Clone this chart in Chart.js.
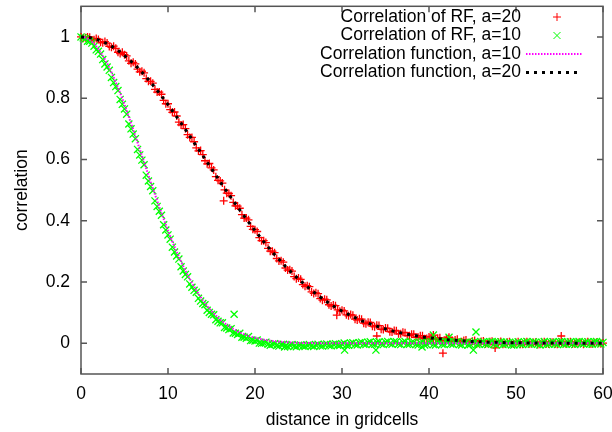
<!DOCTYPE html>
<html>
<head>
<meta charset="utf-8">
<title>correlation</title>
<script src="https://cdn.jsdelivr.net/npm/chart.js@4.4.1/dist/chart.umd.min.js"></script>
<style>
    html, body { margin: 0; padding: 0; background: #fff; }
    #wrap { width: 612px; height: 432px; }
</style>
</head>
<body>
<div id="wrap"><canvas id="chart" width="612" height="432"></canvas></div>
<script>
// distance in gridcells, one row = 5 cells
const distances = [
    0, 0.5, 1, 1.5, 2, 2.5, 3, 3.5, 4, 4.5,
    5, 5.5, 6, 6.5, 7, 7.5, 8, 8.5, 9, 9.5,
    10, 10.5, 11, 11.5, 12, 12.5, 13, 13.5, 14, 14.5,
    15, 15.5, 16, 16.5, 17, 17.5, 18, 18.5, 19, 19.5,
    20, 20.5, 21, 21.5, 22, 22.5, 23, 23.5, 24, 24.5,
    25, 25.5, 26, 26.5, 27, 27.5, 28, 28.5, 29, 29.5,
    30, 30.5, 31, 31.5, 32, 32.5, 33, 33.5, 34, 34.5,
    35, 35.5, 36, 36.5, 37, 37.5, 38, 38.5, 39, 39.5,
    40, 40.5, 41, 41.5, 42, 42.5, 43, 43.5, 44, 44.5,
    45, 45.5, 46, 46.5, 47, 47.5, 48, 48.5, 49, 49.5,
    50, 50.5, 51, 51.5, 52, 52.5, 53, 53.5, 54, 54.5,
    55, 55.5, 56, 56.5, 57, 57.5, 58, 58.5, 59, 59.5,
    60
];
// in-between distances of the random field samples
const distancesMid = [
    0.25, 0.75, 1.25, 1.75, 2.25, 2.75, 3.25, 3.75, 4.25, 4.75,
    5.25, 5.75, 6.25, 6.75, 7.25, 7.75, 8.25, 8.75, 9.25, 9.75,
    10.25, 10.75, 11.25, 11.75, 12.25, 12.75, 13.25, 13.75, 14.25, 14.75,
    15.25, 15.75, 16.25, 16.75, 17.25, 17.75, 18.25, 18.75, 19.25, 19.75,
    20.25, 20.75, 21.25, 21.75, 22.25, 22.75, 23.25, 23.75, 24.25, 24.75,
    25.25, 25.75, 26.25, 26.75, 27.25, 27.75, 28.25, 28.75, 29.25, 29.75,
    30.25, 30.75, 31.25, 31.75, 32.25, 32.75, 33.25, 33.75, 34.25, 34.75,
    35.25, 35.75, 36.25, 36.75, 37.25, 37.75, 38.25, 38.75, 39.25, 39.75,
    40.25, 40.75, 41.25, 41.75, 42.25, 42.75, 43.25, 43.75, 44.25, 44.75,
    45.25, 45.75, 46.25, 46.75, 47.25, 47.75, 48.25, 48.75, 49.25, 49.75,
    50.25, 50.75, 51.25, 51.75, 52.25, 52.75, 53.25, 53.75, 54.25, 54.75,
    55.25, 55.75, 56.25, 56.75, 57.25, 57.75, 58.25, 58.75, 59.25, 59.75
];

// correlation of the random field, a=20
const rfA20 = [
    1.000, 0.997, 0.999, 0.991, 0.992, 0.981, 0.980, 0.966, 0.963, 0.946,
    0.942, 0.922, 0.917, 0.895, 0.888, 0.864, 0.855, 0.829, 0.820, 0.793,
    0.782, 0.754, 0.742, 0.713, 0.701, 0.672, 0.658, 0.628, 0.616, 0.586,
    0.573, 0.544, 0.530, 0.501, 0.489, 0.460, 0.448, 0.420, 0.409, 0.382,
    0.371, 0.345, 0.335, 0.310, 0.301, 0.277, 0.270, 0.246, 0.240, 0.218,
    0.213, 0.192, 0.188, 0.168, 0.165, 0.146, 0.144, 0.126, 0.125, 0.109,
    0.108, 0.093, 0.094, 0.079, 0.080, 0.066, 0.069, 0.056, 0.059, 0.046,
    0.050, 0.038, 0.042, 0.031, 0.036, 0.025, 0.030, 0.020, 0.025, 0.015,
    0.021, 0.012, 0.017, 0.008, 0.014, 0.006, 0.011, 0.003, 0.009, 0.002,
    0.007, -0.001, 0.006, -0.002, 0.005, -0.004, 0.004, -0.003, 0.004, -0.002,
    0.003, -0.003, 0.004, -0.002, 0.003, -0.004, 0.002, -0.001, 0.004, -0.002,
    0.003, 0.000, 0.004, -0.002, 0.002, 0.001, 0.003, -0.002, 0.002, 0.000,
    0.001
];
const rfA20Mid = [
    0.996, 1.000, 0.990, 0.995, 0.983, 0.985, 0.969, 0.970, 0.950, 0.950,
    0.938, 0.914, 0.912, 0.886, 0.883, 0.855, 0.849, 0.820, 0.813, 0.782,
    0.763, 0.755, 0.722, 0.714, 0.681, 0.672, 0.638, 0.629, 0.596, 0.587,
    0.566, 0.532, 0.523, 0.490, 0.482, 0.449, 0.441, 0.409, 0.403, 0.372,
    0.365, 0.335, 0.329, 0.301, 0.296, 0.269, 0.265, 0.239, 0.236, 0.211,
    0.209, 0.186, 0.185, 0.163, 0.162, 0.141, 0.142, 0.122, 0.123, 0.105,
    0.106, 0.090, 0.092, 0.076, 0.079, 0.064, 0.068, 0.054, 0.058, 0.045,
    0.049, 0.037, 0.041, 0.031, 0.035, 0.025, 0.030, 0.020, 0.025, 0.016,
    0.021, 0.013, 0.018, 0.010, 0.015, 0.007, 0.013, 0.005, 0.011, 0.003,
    0.009, 0.002, 0.008, 0.000, 0.007, -0.001, 0.006, -0.002, 0.005, -0.002,
    0.005, -0.003, 0.005, -0.001, 0.004, -0.003, 0.005, -0.002, 0.004, -0.003,
    0.004, -0.002, 0.005, -0.001, 0.004, -0.003, 0.005, -0.002, 0.004, -0.001
];
const rfA20OutX = [16.4, 29.4, 34.0, 40.5, 41.6, 42.3, 47.6, 55.2];
const rfA20OutY = [0.465, 0.092, 0.024, 0.027, -0.032, 0.020, -0.015, 0.024];

// correlation of the random field, a=10
const rfA10 = [
    1.000, 0.994, 0.986, 0.970, 0.953, 0.926, 0.902, 0.868, 0.838, 0.796,
    0.765, 0.716, 0.683, 0.633, 0.598, 0.549, 0.512, 0.465, 0.431, 0.387,
    0.354, 0.314, 0.285, 0.250, 0.225, 0.194, 0.173, 0.147, 0.130, 0.108,
    0.095, 0.077, 0.067, 0.052, 0.045, 0.034, 0.029, 0.020, 0.017, 0.009,
    0.008, 0.001, 0.002, -0.003, -0.003, -0.007, -0.004, -0.008, -0.005, -0.009,
    -0.006, -0.009, -0.006, -0.008, -0.005, -0.008, -0.004, -0.007, -0.003, -0.006,
    -0.002, -0.006, 0.000, -0.004, 0.002, -0.003, 0.003, -0.002, 0.004, -0.002,
    0.004, -0.001, 0.005, -0.002, 0.004, -0.003, 0.003, -0.004, 0.002, -0.005,
    0.003, -0.004, 0.004, -0.003, 0.005, -0.002, 0.004, -0.004, 0.003, -0.005,
    0.002, -0.004, 0.004, -0.003, 0.005, -0.002, 0.004, -0.004, 0.003, -0.005,
    0.002, -0.003, 0.004, -0.002, 0.005, -0.003, 0.003, -0.004, 0.004, -0.002,
    0.005, -0.003, 0.004, -0.002, 0.005, -0.001, 0.004, -0.002, 0.005, 0.000,
    0.003
];
const rfA10Mid = [
    0.997, 0.986, 0.980, 0.958, 0.944, 0.912, 0.891, 0.851, 0.825, 0.780,
    0.748, 0.700, 0.668, 0.615, 0.583, 0.530, 0.498, 0.447, 0.418, 0.370,
    0.340, 0.298, 0.275, 0.236, 0.217, 0.183, 0.167, 0.138, 0.126, 0.101,
    0.093, 0.072, 0.067, 0.050, 0.048, 0.033, 0.033, 0.020, 0.022, 0.010,
    0.011, 0.000, 0.004, -0.006, -0.001, -0.009, -0.003, -0.010, -0.004, -0.011,
    -0.005, -0.010, -0.004, -0.010, -0.003, -0.009, -0.002, -0.008, -0.001, -0.007,
    0.001, -0.006, 0.002, -0.005, 0.004, -0.004, 0.005, -0.003, 0.005, -0.004,
    0.006, -0.003, 0.005, -0.004, 0.006, -0.003, 0.004, -0.005, 0.005, -0.004,
    0.005, -0.005, 0.006, -0.004, 0.005, -0.003, 0.006, -0.005, 0.004, -0.004,
    0.006, -0.003, 0.005, -0.004, 0.006, -0.005, 0.005, -0.003, 0.004, -0.005,
    0.005, -0.004, 0.006, -0.003, 0.004, -0.005, 0.006, -0.003, 0.005, -0.004,
    0.006, -0.003, 0.005, -0.004, 0.006, -0.002, 0.005, -0.003, 0.006, -0.002
];
const rfA10OutX = [17.6, 23.4, 30.3, 33.9, 39.2, 40.5, 42.3, 45.1, 45.4];
const rfA10OutY = [0.095, -0.012, -0.022, -0.022, -0.012, 0.027, 0.020, -0.022, 0.037];

// correlation function, a=10
const funcA10 = [
    1.000, 0.998, 0.990, 0.978, 0.961, 0.939, 0.914, 0.885, 0.852, 0.817,
    0.779, 0.739, 0.698, 0.655, 0.613, 0.570, 0.527, 0.486, 0.445, 0.406,
    0.368, 0.332, 0.298, 0.267, 0.237, 0.210, 0.185, 0.162, 0.141, 0.122,
    0.105, 0.091, 0.077, 0.066, 0.056, 0.047, 0.039, 0.033, 0.027, 0.022,
    0.018, 0.015, 0.012, 0.010, 0.008, 0.006, 0.005, 0.004, 0.003, 0.002,
    0.002, 0.001, 0.001, 0.001, 0, 0, 0, 0, 0, 0,
    0, 0, 0, 0, 0, 0, 0, 0, 0, 0,
    0, 0, 0, 0, 0, 0, 0, 0, 0, 0,
    0, 0, 0, 0, 0, 0, 0, 0, 0, 0,
    0, 0, 0, 0, 0, 0, 0, 0, 0, 0,
    0, 0, 0, 0, 0, 0, 0, 0, 0, 0,
    0, 0, 0, 0, 0, 0, 0, 0, 0, 0,
    0
];

// correlation function, a=20
const funcA20 = [
    1.000, 0.999, 0.998, 0.994, 0.990, 0.985, 0.978, 0.970, 0.961, 0.951,
    0.939, 0.927, 0.914, 0.900, 0.885, 0.869, 0.852, 0.835, 0.817, 0.798,
    0.779, 0.759, 0.739, 0.719, 0.698, 0.677, 0.655, 0.634, 0.613, 0.591,
    0.570, 0.549, 0.527, 0.506, 0.486, 0.465, 0.445, 0.425, 0.406, 0.387,
    0.368, 0.350, 0.332, 0.315, 0.298, 0.282, 0.267, 0.251, 0.237, 0.223,
    0.210, 0.197, 0.185, 0.173, 0.162, 0.151, 0.141, 0.131, 0.122, 0.114,
    0.105, 0.098, 0.091, 0.084, 0.077, 0.071, 0.066, 0.061, 0.056, 0.051,
    0.047, 0.043, 0.039, 0.036, 0.033, 0.030, 0.027, 0.025, 0.022, 0.020,
    0.018, 0.017, 0.015, 0.014, 0.012, 0.011, 0.010, 0.009, 0.008, 0.007,
    0.006, 0.006, 0.005, 0.004, 0.004, 0.004, 0.003, 0.003, 0.002, 0.002,
    0.002, 0.002, 0.001, 0.001, 0.001, 0.001, 0.001, 0.001, 0.001, 0.001,
    0.001, 0, 0, 0, 0, 0, 0, 0, 0, 0,
    0
];

const xTicks = [0, 10, 20, 30, 40, 50, 60];
const yTicks = [0, 0.2, 0.4, 0.6, 0.8, 1];
const seriesNames = [
    'Correlation of RF, a=20',
    'Correlation of RF, a=10',
    'Correlation function, a=10',
    'Correlation function, a=20'
];

const FONT = "'Liberation Sans', Arial, Helvetica, sans-serif";

function toPoints(xs, ys) {
    return xs.map((x, i) => ({ x: x, y: ys[i] }));
}

// gnuplot style frame with inward ticks on all four sides
const framePlugin = {
    id: 'frame',
    beforeDatasetsDraw(chart) {
        const { ctx, chartArea: a, scales } = chart;
        const len = 6;
        ctx.save();
        ctx.strokeStyle = '#555';
        ctx.lineWidth = 1.5;
        ctx.strokeRect(a.left, a.top, a.right - a.left, a.bottom - a.top);
        ctx.beginPath();
        xTicks.forEach(v => {
            const px = scales.x.getPixelForValue(v);
            ctx.moveTo(px, a.bottom); ctx.lineTo(px, a.bottom - len);
            ctx.moveTo(px, a.top); ctx.lineTo(px, a.top + len);
        });
        yTicks.forEach(v => {
            const py = scales.y.getPixelForValue(v);
            ctx.moveTo(a.left, py); ctx.lineTo(a.left + len, py);
            ctx.moveTo(a.right, py); ctx.lineTo(a.right - len, py);
        });
        ctx.stroke();
        ctx.restore();
    }
};

// key in the top right corner: text right aligned, sample on the right
const keyPlugin = {
    id: 'key',
    afterDatasetsDraw(chart) {
        const ctx = chart.ctx;
        const textRight = 521;
        const sampleL = 526, sampleR = 582, sampleC = 557;
        const rowY = [17, 35.5, 54, 72.5];
        ctx.save();
        ctx.font = '17.5px ' + FONT;
        ctx.fillStyle = '#000';
        ctx.textAlign = 'right';
        ctx.textBaseline = 'middle';
        chart.data.datasets.forEach((ds, i) => {
            const y = rowY[i];
            ctx.fillText(seriesNames[i], textRight, y);
            ctx.beginPath();
            ctx.strokeStyle = ds.borderColor;
            if (ds.pointStyle === 'cross') {
                ctx.lineWidth = 1;
                ctx.moveTo(sampleC - 4, y); ctx.lineTo(sampleC + 4, y);
                ctx.moveTo(sampleC, y - 4); ctx.lineTo(sampleC, y + 4);
                ctx.stroke();
            } else if (ds.pointStyle === 'crossRot') {
                ctx.lineWidth = 1;
                ctx.moveTo(sampleC - 3.5, y - 3.5); ctx.lineTo(sampleC + 3.5, y + 3.5);
                ctx.moveTo(sampleC - 3.5, y + 3.5); ctx.lineTo(sampleC + 3.5, y - 3.5);
                ctx.stroke();
            } else {
                ctx.lineWidth = ds.borderWidth;
                ctx.setLineDash(ds.borderDash);
                ctx.moveTo(sampleL, y); ctx.lineTo(sampleR, y);
                ctx.stroke();
                ctx.setLineDash([]);
            }
        });
        ctx.restore();
    }
};

const ctx = document.getElementById('chart').getContext('2d');
new Chart(ctx, {
    type: 'scatter',
    data: {
        datasets: [{
            label: seriesNames[0],
            data: toPoints(distances, rfA20)
                .concat(toPoints(distancesMid, rfA20Mid))
                .concat(toPoints(rfA20OutX, rfA20OutY)),
            pointStyle: 'cross',
            pointRadius: 4,
            borderWidth: 1.3,
            borderColor: '#ff0000',
            backgroundColor: '#ff0000',
            clip: false,
            order: 3
        }, {
            label: seriesNames[1],
            data: toPoints(distances, rfA10)
                .concat(toPoints(distancesMid, rfA10Mid))
                .concat(toPoints(rfA10OutX, rfA10OutY)),
            pointStyle: 'crossRot',
            pointRadius: 5,
            borderWidth: 1.3,
            borderColor: '#00ff00',
            backgroundColor: '#00ff00',
            clip: false,
            order: 2
        }, {
            label: seriesNames[2],
            data: toPoints(distances, funcA10),
            showLine: true,
            pointRadius: 0,
            borderColor: '#ff00ff',
            borderWidth: 2,
            borderDash: [1.5, 1.5],
            tension: 0,
            clip: false,
            order: 1
        }, {
            label: seriesNames[3],
            data: toPoints(distances, funcA20),
            showLine: true,
            pointRadius: 0,
            borderColor: '#000000',
            borderWidth: 3,
            borderDash: [3, 5],
            tension: 0,
            clip: false,
            order: 0
        }]
    },
    options: {
        responsive: false,
        animation: false,
        events: [],
        layout: { padding: { top: 4, right: 9, left: 0, bottom: 0 } },
        plugins: {
            legend: { display: false },
            tooltip: { enabled: false }
        },
        scales: {
            x: {
                type: 'linear',
                min: 0,
                max: 60,
                grid: { display: false, drawTicks: false },
                border: { display: false },
                afterBuildTicks: scale => { scale.ticks = xTicks.map(v => ({ value: v })); },
                afterFit: scale => { scale.height = 58; scale.paddingLeft = 0; scale.paddingRight = 0; },
                ticks: {
                    padding: 10,
                    color: '#000',
                    font: { family: FONT, size: 17.5 },
                    callback: v => String(v)
                },
                title: {
                    display: true,
                    text: 'distance in gridcells',
                    color: '#000',
                    font: { family: FONT, size: 17.5 },
                    padding: { top: 0, bottom: 1 }
                }
            },
            y: {
                type: 'linear',
                min: -0.1,
                max: 1.1,
                grid: { display: false, drawTicks: false },
                border: { display: false },
                afterBuildTicks: scale => { scale.ticks = yTicks.map(v => ({ value: v })); },
                afterFit: scale => { scale.width = 81; scale.paddingTop = 0; scale.paddingBottom = 0; },
                ticks: {
                    padding: 11,
                    color: '#000',
                    font: { family: FONT, size: 17.5 },
                    callback: v => String(v)
                },
                title: {
                    display: true,
                    text: 'correlation',
                    color: '#000',
                    font: { family: FONT, size: 17.5 },
                    padding: { top: 11.5, bottom: 0 }
                }
            }
        }
    },
    plugins: [framePlugin, keyPlugin]
});
</script>
</body>
</html>
